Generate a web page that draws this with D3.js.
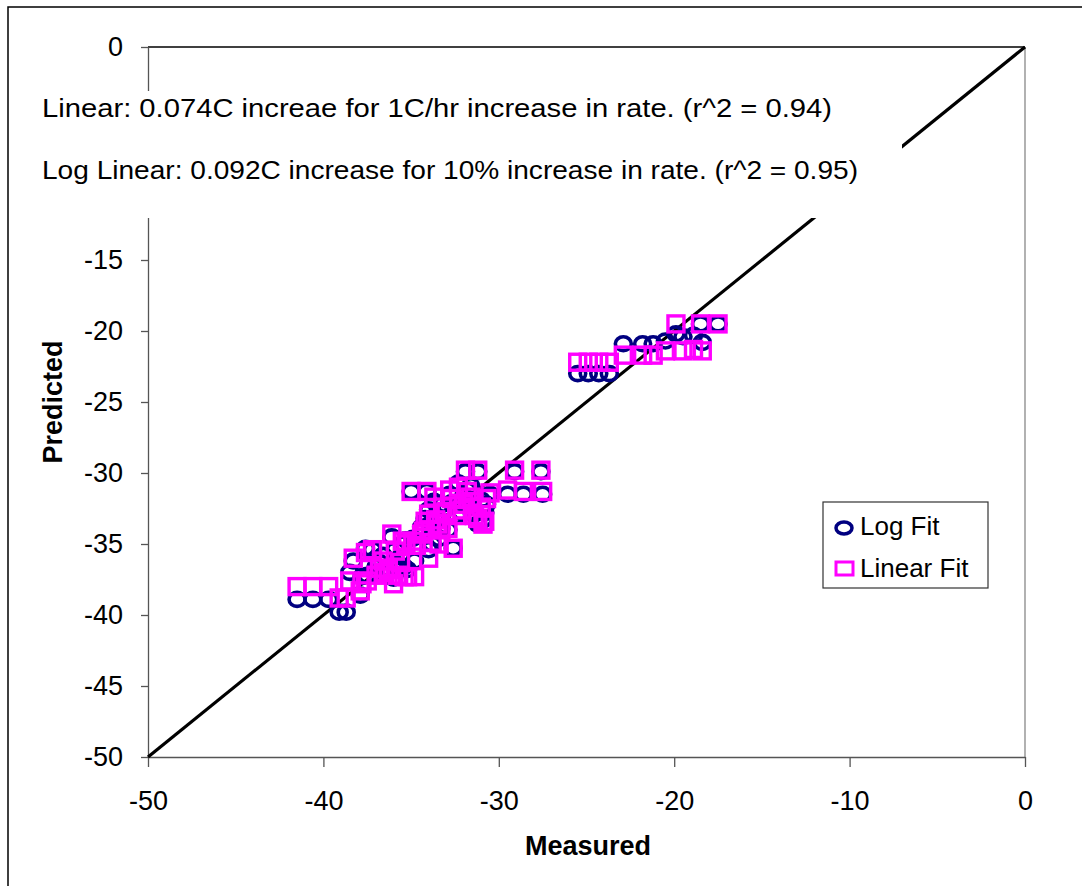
<!DOCTYPE html>
<html>
<head>
<meta charset="utf-8">
<script src="https://cdn.jsdelivr.net/npm/d3@7.9.0/dist/d3.min.js"></script>
<style>
  body { margin: 0; background: #fff; }
  svg { display: block; font-family: "Liberation Sans", Arial, sans-serif; }
</style>
</head>
<body>
<svg id="chart" width="1082" height="886"></svg>
<script>
// measured value for each observation, and the two model predictions
const measured = [
  -41.5, -40.6, -39.7, -39.1, -38.7, -38.5, -38.3, -37.9, -37.5, -37.2,
  -36.8, -36.5, -36.1, -35.8, -35.5, -35.2, -35.0, -34.1, -34.4, -34.0,
  -33.8, -33.5, -33.2, -32.9, -32.6, -32.3, -32.0, -31.9, -31.5, -31.2,
  -31.2, -30.8, -30.5, -29.5, -29.1, -28.6, -27.6, -27.5,
  -37.8, -37.0, -36.6, -36.3, -35.9, -35.6, -35.3, -34.9, -34.7, -34.3,
  -33.9, -33.6, -33.3, -33.0, -32.7, -32.4, -32.1, -31.8, -31.6, -31.4,
  -31.0, -30.7, -33.7, -32.8, -34.2,
  -35.4, -34.8, -34.0, -36.0, -37.6, -33.4, -30.9,
  -25.5, -24.9, -24.3, -23.7, -22.9, -21.8, -21.2, -20.5, -19.9, -19.5,
  -18.9, -18.5, -18.4, -17.5
];
const logFit = [
  -38.9, -38.9, -38.9, -39.8, -39.8, -37.0, -36.2, -38.6, -37.2, -35.4,
  -36.3, -37.0, -34.5, -36.5, -35.0, -36.8, -31.3, -31.3, -33.8, -32.6,
  -35.0, -33.3, -32.2, -34.0, -35.3, -30.7, -31.6, -29.9, -32.4, -33.6,
  -29.9, -32.8, -31.5, -31.5, -29.9, -31.5, -29.9, -31.5,
  -37.3, -36.6, -35.8, -36.9, -35.4, -35.9, -34.7, -34.6, -35.2, -34.0,
  -33.6, -33.0, -33.9, -32.5, -32.1, -33.0, -32.8, -31.2, -30.9, -32.9,
  -31.9, -32.2, -32.0, -31.5, -33.2,
  -36.6, -36.2, -35.4, -37.4, -35.3, -34.6, -33.3,
  -23.0, -23.0, -23.0, -23.0, -20.9, -20.9, -20.9, -20.7, -20.2, -20.4,
  -20.3, -19.5, -20.8, -19.5
];
const linearFit = [
  -38.0, -38.0, -38.0, -38.8, -38.8, -37.6, -36.0, -38.3, -37.6, -35.4,
  -36.7, -37.0, -34.3, -37.2, -34.8, -37.3, -31.3, -31.3, -34.3, -32.9,
  -34.9, -33.6, -32.4, -33.9, -35.3, -31.0, -32.2, -29.8, -32.0, -33.2,
  -29.8, -33.4, -31.4, -31.2, -29.8, -31.3, -29.8, -31.3,
  -37.8, -37.2, -36.2, -36.8, -35.5, -36.3, -35.0, -34.8, -35.1, -34.1,
  -34.0, -33.3, -34.0, -32.7, -31.8, -33.0, -32.6, -31.3, -31.7, -33.0,
  -32.4, -31.8, -31.7, -31.2, -33.4,
  -37.3, -37.3, -36.0, -37.8, -35.6, -35.0, -33.6,
  -22.2, -22.2, -22.2, -22.2, -21.7, -21.7, -21.7, -21.4, -19.5, -21.4,
  -21.3, -19.5, -21.4, -19.5
];
const xTicks = [-50, -40, -30, -20, -10, 0];
const yTicks = [0, -5, -10, -15, -20, -25, -30, -35, -40, -45, -50];
const hiddenYLabels = [-5, -10]; // sit under the text box
const notes = [
  "Linear:  0.074C increae for 1C/hr increase in rate. (r^2 = 0.94)",
  "Log Linear:  0.092C increase for 10% increase in rate. (r^2 = 0.95)"
];
const seriesNames = ["Log Fit", "Linear Fit"];

const navy = "#000080", pink = "#ff00ff";
const svg = d3.select("#chart");

// chart border
svg.append("rect").attr("x", 8).attr("y", 7).attr("width", 1100).attr("height", 900)
  .attr("fill", "none").attr("stroke", "#000").attr("stroke-width", 1.5);

const x = d3.scaleLinear().domain([-50, 0]).range([148, 1025]);
const y = d3.scaleLinear().domain([-50, 0]).range([757, 47]);

// plot area border (top + right)
svg.append("line").attr("x1", x(-50)).attr("x2", x(0)).attr("y1", y(0)).attr("y2", y(0))
  .attr("stroke", "#000").attr("stroke-width", 1.3);
svg.append("line").attr("x1", x(0)).attr("x2", x(0)).attr("y1", y(0)).attr("y2", y(-50))
  .attr("stroke", "#888").attr("stroke-width", 1.3);

const yAxis = svg.append("g").attr("transform", `translate(${x(-50)},0)`)
  .call(d3.axisLeft(y).tickValues(yTicks).tickSize(7).tickSizeOuter(0).tickPadding(18)
    .tickFormat(d => hiddenYLabels.includes(d) ? "" : String(d)));
const xAxis = svg.append("g").attr("transform", `translate(0,${y(-50)})`)
  .call(d3.axisBottom(x).tickValues(xTicks).tickSize(10).tickSizeOuter(0).tickPadding(24)
    .tickFormat(d => String(d)));
[xAxis, yAxis].forEach(a => {
  a.select(".domain").attr("stroke", "#555").attr("stroke-width", 1.3);
  a.selectAll(".tick line").attr("stroke", "#555").attr("stroke-width", 1.3);
  a.selectAll("text").attr("font-size", 27).attr("fill", "#000")
    .attr("font-family", "'Liberation Sans', Arial, sans-serif");
});

// 1:1 line
svg.append("line").attr("x1", x(-50)).attr("y1", y(-50)).attr("x2", x(0)).attr("y2", y(0))
  .attr("stroke", "#000").attr("stroke-width", 3.2);

const pts = measured.map((m, i) => ({ m, log: logFit[i], lin: linearFit[i] }));

svg.append("g").selectAll("ellipse").data(pts).join("ellipse")
  .attr("cx", d => x(d.m)).attr("cy", d => y(d.log))
  .attr("rx", 8).attr("ry", 7)
  .attr("fill", "none").attr("stroke", navy).attr("stroke-width", 3.6);

svg.append("g").selectAll("rect").data(pts).join("rect")
  .attr("x", d => x(d.m) - 8).attr("y", d => y(d.lin) - 8)
  .attr("width", 16).attr("height", 16)
  .attr("fill", "none").attr("stroke", pink).attr("stroke-width", 3.4);

// text boxes over the upper-left corner
svg.append("rect").attr("x", 25).attr("y", 91).attr("width", 877).attr("height", 127).attr("fill", "#fff");
svg.selectAll(".note").data(notes).join("text").attr("class", "note")
  .attr("x", 42).attr("y", (d, i) => 117 + i * 62)
  .attr("font-size", 26).attr("textLength", (d, i) => [790, 816][i])
  .attr("lengthAdjust", "spacingAndGlyphs").text(d => d);

// axis titles
svg.append("text").attr("x", 588).attr("y", 855).attr("text-anchor", "middle")
  .attr("font-size", 27).attr("font-weight", "bold").text("Measured");
svg.append("text").attr("transform", "translate(62,402) rotate(-90)").attr("text-anchor", "middle")
  .attr("font-size", 27).attr("font-weight", "bold").text("Predicted");

// legend
const lg = svg.append("g");
lg.append("rect").attr("x", 823).attr("y", 502).attr("width", 165).attr("height", 86)
  .attr("fill", "#fff").attr("stroke", "#333").attr("stroke-width", 1.2);
lg.append("ellipse").attr("cx", 844).attr("cy", 528).attr("rx", 8).attr("ry", 6)
  .attr("fill", "none").attr("stroke", navy).attr("stroke-width", 3.5);
lg.append("rect").attr("x", 836).attr("y", 562).attr("width", 17).attr("height", 13)
  .attr("fill", "none").attr("stroke", pink).attr("stroke-width", 3);
lg.selectAll("text").data(seriesNames).join("text")
  .attr("x", 860).attr("y", (d, i) => 535 + i * 42)
  .attr("font-size", 26).text(d => d);
</script>
</body>
</html>
